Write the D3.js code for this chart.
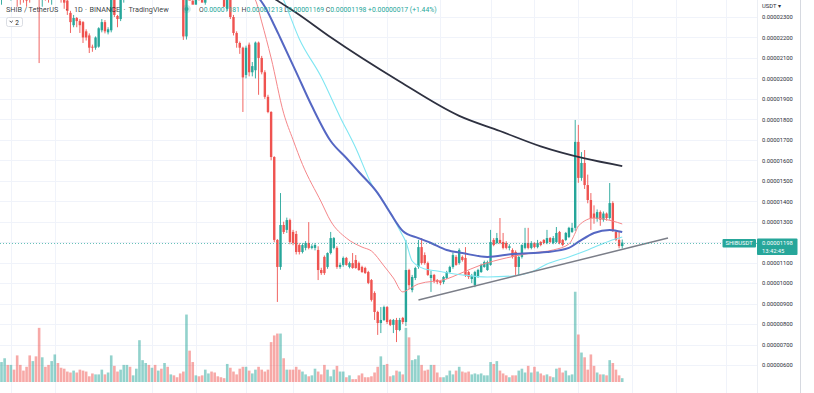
<!DOCTYPE html>
<html><head><meta charset="utf-8">
<script src="https://cdn.jsdelivr.net/npm/d3@7"></script>
<style>html,body{margin:0;padding:0;background:#fff;overflow:hidden}svg{display:block;font-family:Roboto,"Liberation Sans",sans-serif}</style>
</head><body><svg id="c" width="814" height="393"></svg>
<script>
// ---------- DATA (prices in units of 1e-8 USDT) ----------
const UNIT = 1e-8;
const open = [2390,2440,2520,2470,2500,2450,2400,2420,2400,2460,2400,2460,2480,2400,2450,2420,2400,2450,2500,2440,2400,2380,2320,2260,2295,2280,2275,2230,2210,2155,2150,2155,2235,2275,2225,2235,2410,2305,2290,2400,2450,2480,2450,2520,2600,2690,2710,2730,2670,2700,2650,2680,2630,2660,2600,2620,2560,2520,2460,2205,2420,2380,2360,2420,2400,2370,2440,2480,2460,2440,2430,2410,2340,2420,2300,2222,2173,2150,2017,2165,2030,2040,2175,2100,2030,1910,1836,1616,1211,1079,1284,1260,1308,1250,1240,1186,1152,1172,1196,1172,1172,1162,1064,1128,1079,1147,1172,1172,1079,1089,1123,1079,1098,1113,1098,1079,1074,1054,1015,952,859,805,820,883,820,796,820,771,830,810,1064,966,1025,1079,1176,1137,1098,1025,1040,1015,1010,1005,1025,1054,1079,1128,1098,1128,1123,1054,1020,991,1030,1054,1079,1064,1089,1211,1196,1211,1201,1196,1172,1162,1152,1079,1128,1172,1196,1172,1196,1176,1201,1211,1196,1220,1196,1201,1250,1211,1211,1225,1250,1270,1690,1514,1587,1479,1406,1340,1315,1347,1310,1340,1318,1391,1250,1211,1181];
const high = [2480,2540,2540,2530,2520,2470,2420,2440,2430,2470,2480,2480,2520,2470,2470,2440,2480,2520,2510,2450,2420,2390,2330,2310,2300,2290,2280,2240,2220,2165,2205,2250,2290,2285,2250,2440,2420,2310,2420,2470,2500,2500,2540,2620,2720,2740,2760,2750,2720,2720,2700,2700,2680,2670,2640,2630,2580,2530,2470,2460,2440,2400,2440,2430,2420,2460,2500,2500,2480,2460,2450,2420,2450,2430,2310,2230,2180,2155,2160,2175,2080,2180,2180,2110,2040,1920,1840,1620,1215,1440,1300,1320,1315,1260,1255,1195,1195,1205,1298,1190,1195,1180,1075,1135,1150,1250,1225,1180,1100,1130,1128,1105,1147,1137,1105,1085,1080,1060,1020,960,865,883,890,888,825,825,830,830,835,1211,1070,1040,1080,1211,1220,1150,1105,1060,1045,1020,1015,1035,1060,1085,1150,1137,1170,1135,1176,1060,1045,1060,1070,1095,1110,1110,1260,1220,1245,1318,1245,1205,1190,1170,1160,1135,1190,1270,1270,1205,1200,1211,1205,1215,1260,1225,1230,1274,1255,1215,1250,1275,1294,1797,1773,1640,1650,1530,1440,1380,1360,1355,1350,1345,1489,1400,1255,1250,1213];
const low = [2360,2420,2400,2380,2430,2350,2360,2370,2350,2370,2385,2390,2075,2350,2380,2370,2360,2420,2400,2370,2340,2310,2222,2250,2250,2222,2173,2185,2124,2130,2140,2150,2225,2220,2215,2225,2300,2250,2280,2370,2420,2420,2430,2500,2560,2640,2680,2650,2640,2630,2620,2610,2600,2580,2570,2540,2500,2440,2188,2190,2390,2380,2370,2380,2380,2360,2420,2440,2420,2410,2395,2350,2330,2290,2210,2150,2120,1836,2000,2010,2010,2000,1920,2020,1900,1830,1600,1200,908,1065,1240,1245,1190,1185,1140,1140,1145,1160,1165,1165,1160,1015,1040,1040,1070,1140,1165,1070,1070,1080,1085,1072,1070,1070,1060,1050,1045,995,910,820,747,756,815,800,790,756,712,765,800,790,970,955,1015,1070,1090,1090,1035,957,1000,995,990,995,1020,1050,1070,1085,1090,1105,1030,1020,1000,980,1025,1050,1075,1060,1085,1180,1190,1190,1165,1165,1160,1120,1040,1040,1120,1165,1165,1165,1170,1170,1180,1190,1190,1195,1190,1195,1190,1180,1205,1220,1245,1255,1490,1500,1460,1390,1260,1290,1300,1280,1300,1305,1310,1250,1205,1170,1169];
const close = [2450,2520,2470,2500,2450,2400,2395,2390,2380,2400,2450,2420,2400,2450,2420,2410,2460,2500,2440,2390,2370,2330,2275,2295,2280,2260,2200,2200,2150,2150,2200,2245,2275,2230,2240,2410,2310,2290,2400,2450,2480,2450,2520,2600,2690,2710,2730,2670,2700,2650,2680,2630,2660,2600,2620,2560,2520,2460,2205,2420,2380,2360,2420,2400,2370,2440,2480,2460,2440,2430,2410,2350,2420,2300,2222,2173,2150,2005,2150,2030,2060,2175,2100,2030,1910,1836,1616,1211,1079,1284,1250,1308,1201,1196,1152,1152,1186,1196,1172,1180,1186,1064,1049,1049,1147,1220,1220,1079,1089,1123,1089,1098,1074,1074,1064,1054,1049,1001,918,859,805,820,883,810,796,820,771,820,810,1064,990,1030,1074,1176,1098,1098,1040,1040,1010,1005,1001,1030,1054,1079,1137,1089,1162,1113,1040,1030,1035,1054,1064,1089,1103,1103,1201,1186,1220,1196,1172,1172,1180,1128,1079,1128,1186,1196,1172,1196,1176,1196,1186,1196,1220,1201,1220,1245,1196,1186,1245,1270,1270,1690,1514,1587,1479,1406,1318,1318,1347,1310,1340,1318,1391,1260,1211,1181,1198];
const volume = [21,25,18,18,13,28,18,12,16,28,22,27,57,26,16,18,22,29,20,15,14,11,10,12,10,13,12,11,6,9,8,8,13,8,10,28,17,11,13,18,18,16,7,14,44,23,20,18,15,18,12,14,20,16,8,7,5,9,11,71,33,21,7,6,7,13,9,11,10,6,5,4,19,15,11,8,14,16,16,12,9,13,16,13,11,13,42,49,51,51,25,13,13,13,16,13,11,8,6,7,14,11,8,18,13,6,13,17,11,11,5,7,3,3,7,9,5,5,6,10,16,27,18,19,6,7,12,11,8,57,47,23,24,28,18,12,13,18,18,10,5,5,7,12,8,12,16,11,10,11,8,9,8,9,7,7,21,19,22,12,9,7,5,7,7,12,14,10,17,10,16,11,9,7,8,6,5,14,15,10,12,7,8,95,50,31,26,13,29,17,10,8,8,7,23,20,13,7,4];
const priceTicks = [2300,2200,2100,2000,1900,1800,1700,1600,1500,1400,1300,1200,1100,1000,900,800,700,600];
const timeGridIdx = [3,17,48,62,78,93,109,123,140,156,170,184,201,215,231];
// moving averages: [candle index, price]
const maSlow = [[84,2422],[88,2380],[94,2321],[105,2201],[127,1985],[146,1817],[159,1743],[172,1668],[186,1609],[198,1572]];
const maMid = [[80,2440],[82,2395],[84,2350],[87,2260],[89,2195],[94,2031],[99,1865],[105,1694],[110,1611],[114,1543],[120,1440],[124,1343],[128,1255],[133,1220],[137,1196],[142,1162],[147,1147],[155,1128],[163,1142],[174,1152],[181,1172],[184,1201],[189,1245],[194,1260],[198,1250]];
const maLong = [[87,2480],[90,2383],[95,2193],[102,2007],[108,1812],[113,1660],[118,1484],[123,1372],[127,1259],[129,1201],[131,1108],[135,1069],[139,1059],[147,1040],[155,1030],[163,1035],[169,1054],[174,1093],[181,1128],[187,1162],[194,1206],[198,1225]];
const maFast = [[78,2432],[81,2383],[83,2276],[86,2100],[90,1830],[93,1700],[96,1580],[102,1396],[105,1303],[110,1220],[115,1176],[118,1157],[122,1084],[125,1025],[128,957],[130,971],[133,996],[142,1020],[146,1045],[153,1089],[161,1123],[169,1147],[176,1162],[181,1191],[183,1245],[184,1279],[189,1318],[195,1303],[198,1289]];
const trendLine = [[133,918],[212.6,1220]];
const titleParts = ["SHIB / TetherUS","·","1D","·","BINANCE","·","TradingView"];
const ticker = "SHIBUSDT", quote = "USDT", countdown = "13:42:45";

// ---------- LAYOUT ----------
const svg = d3.select("#c");
const W = 814, H = 393, plotR = 757, scaleR = 800;
const N = close.length;
const x = d3.scaleLinear().domain([0, N - 1]).range([1.5, 1.5 + 3.135 * (N - 1)]);
const y = d3.scaleLinear().domain([600, 2300]).range([365, 17]);
const yv = d3.scaleLinear().domain([0, 100]).range([382, 287]);
const fmt = d3.format(".8f");
const UP = "#26a69a", DN = "#ef5350";

svg.append("rect").attr("width", W).attr("height", H).attr("fill", "#fff");
svg.append("clipPath").attr("id", "plot").append("rect").attr("x", 0).attr("y", 0).attr("width", plotR).attr("height", H);
const g = svg.append("g").attr("clip-path", "url(#plot)");

// grid
g.selectAll("line.hg").data(priceTicks).join("line")
  .attr("x1", 0).attr("x2", plotR).attr("y1", d => Math.round(y(d)) + 0.5).attr("y2", d => Math.round(y(d)) + 0.5)
  .attr("stroke", "#f0f3fa").attr("stroke-width", 1);
g.selectAll("line.vg").data(timeGridIdx).join("line")
  .attr("x1", d => Math.round(x(d)) + 0.5).attr("x2", d => Math.round(x(d)) + 0.5).attr("y1", 0).attr("y2", H)
  .attr("stroke", "#f0f3fa").attr("stroke-width", 1);

// volume
const idx = d3.range(N);
g.selectAll("rect.vol").data(idx).join("rect")
  .attr("x", i => x(i) - 1.3).attr("width", 2.6)
  .attr("y", i => yv(volume[i])).attr("height", i => yv(0) - yv(volume[i]))
  .attr("fill", i => close[i] >= open[i] ? "rgba(38,166,154,0.5)" : "rgba(239,83,80,0.5)");

// candles
const cg = g.append("g");
cg.selectAll("line.wick").data(idx).join("line")
  .attr("x1", i => x(i)).attr("x2", i => x(i)).attr("y1", i => y(high[i])).attr("y2", i => y(low[i]))
  .attr("stroke", i => close[i] >= open[i] ? UP : DN).attr("stroke-width", 0.9);
cg.selectAll("rect.body").data(idx).join("rect")
  .attr("x", i => x(i) - 1.2).attr("width", 2.4)
  .attr("y", i => y(Math.max(open[i], close[i])))
  .attr("height", i => Math.max(0.8, Math.abs(y(open[i]) - y(close[i]))))
  .attr("fill", i => close[i] >= open[i] ? UP : DN);

// moving averages
const line = d3.line().x(d => x(d[0])).y(d => y(d[1])).curve(d3.curveMonotoneX);
g.append("path").attr("d", line(maFast)).attr("fill", "none").attr("stroke", "#f5878a").attr("stroke-width", 1);
g.append("path").attr("d", line(maLong)).attr("fill", "none").attr("stroke", "#7fe6f2").attr("stroke-width", 1.1);
g.append("path").attr("d", line(maMid)).attr("fill", "none").attr("stroke", "#5567c3").attr("stroke-width", 2);
g.append("path").attr("d", line(maSlow)).attr("fill", "none").attr("stroke", "#2e3140").attr("stroke-width", 1.8);

// trend line
g.append("line").attr("x1", x(trendLine[0][0])).attr("y1", y(trendLine[0][1]))
  .attr("x2", x(trendLine[1][0])).attr("y2", y(trendLine[1][1]))
  .attr("stroke", "#7b7e88").attr("stroke-width", 1.5);

// last price dotted line
const lastY = y(close[N - 1]);
g.append("line").attr("x1", 0).attr("x2", plotR).attr("y1", Math.round(lastY) + 0.5).attr("y2", Math.round(lastY) + 0.5)
  .attr("stroke", UP).attr("stroke-opacity", 0.7).attr("stroke-width", 1).attr("stroke-dasharray", "1,2");

// price scale
svg.append("line").attr("x1", plotR + 0.5).attr("x2", plotR + 0.5).attr("y1", 0).attr("y2", H).attr("stroke", "#eceff4");
svg.append("line").attr("x1", scaleR + 0.5).attr("x2", scaleR + 0.5).attr("y1", 0).attr("y2", H).attr("stroke", "#d6d9e0");
const axis = d3.axisRight(y).tickValues(priceTicks.filter(t => Math.abs(y(t) - lastY) > 10))
  .tickFormat(d => fmt(d * UNIT)).tickSize(0).tickPadding(5);
const ag = svg.append("g").attr("transform", `translate(${plotR},0)`).call(axis);
ag.select(".domain").remove();
ag.selectAll("text").attr("font-size", 5.8).attr("fill", "#2a2e39").attr("font-family", "Roboto,'Liberation Sans',sans-serif");
svg.append("text").attr("x", 762).attr("y", 8).attr("font-size", 5.8).attr("fill", "#2a2e39").text(quote + " ▾");

// current price label
svg.append("rect").attr("x", plotR).attr("y", 238.5).attr("width", 40.5).attr("height", 16.5).attr("fill", UP).attr("rx", 1);
svg.append("text").attr("x", 762).attr("y", 245).attr("font-size", 5.8).attr("fill", "#fff").text(fmt(close[N - 1] * UNIT));
svg.append("text").attr("x", 762).attr("y", 252.5).attr("font-size", 5.8).attr("fill", "#fff").text(countdown);
svg.append("rect").attr("x", 722.5).attr("y", 239).attr("width", 33.5).attr("height", 8.5).attr("fill", UP).attr("rx", 1);
svg.append("text").attr("x", 725.5).attr("y", 245.3).attr("font-size", 5.8).attr("fill", "#fff").text(ticker);

// legend header
const tx = [6, 65.5, 74, 85, 89.5, 123.5, 128.5];
svg.selectAll("text.title").data(titleParts).join("text")
  .attr("x", (d, i) => tx[i]).attr("y", 11.8).attr("font-size", 7.3).attr("fill", "#131722").attr("fill-opacity", 0.85).text(d => d);
svg.append("circle").attr("cx", 186.5).attr("cy", 9).attr("r", 4.3).attr("fill", UP).attr("fill-opacity", 0.22);
svg.append("circle").attr("cx", 186.5).attr("cy", 9).attr("r", 2).attr("fill", UP);
const L = N - 1;
const chg = close[L] - open[L];
const items = [["O", fmt(open[L] * UNIT)], ["H", fmt(high[L] * UNIT)], ["L", fmt(low[L] * UNIT)], ["C", fmt(close[L] * UNIT)]];
const lt = svg.append("text").attr("x", 199).attr("y", 11.8).attr("font-size", 6.8).attr("xml:space", "preserve");
items.forEach((it, k) => {
  lt.append("tspan").attr("fill", "#131722").attr("fill-opacity", 0.85).text((k ? " " : "") + it[0]);
  lt.append("tspan").attr("fill", UP).text(it[1]);
});
lt.append("tspan").attr("fill", UP).text(" " + (chg >= 0 ? "+" : "") + fmt(chg * UNIT) + " (" + (chg >= 0 ? "+" : "") + d3.format(".2f")(chg / open[L] * 100) + "%)");

// collapse button
svg.append("rect").attr("x", 6.5).attr("y", 17.5).attr("width", 16).attr("height", 9).attr("rx", 2)
  .attr("fill", "#fff").attr("stroke", "#d1d4dc").attr("stroke-width", 0.8);
svg.append("path").attr("d", "M9.6,20.8 L11.2,22.4 L12.8,20.8").attr("fill", "none").attr("stroke", "#131722").attr("stroke-width", 0.8);
svg.append("text").attr("x", 15.2).attr("y", 24.5).attr("font-size", 6.5).attr("fill", "#131722").text("2");
</script></body></html>
